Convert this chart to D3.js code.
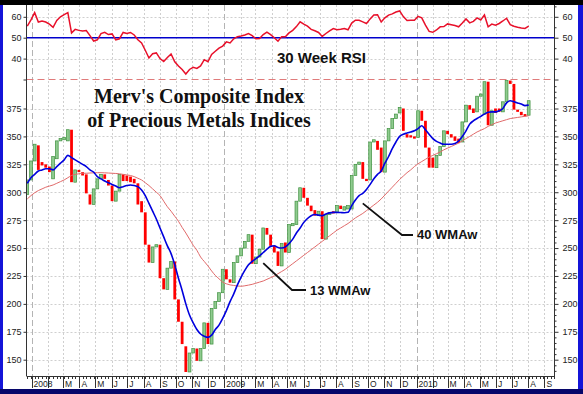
<!DOCTYPE html>
<html><head><meta charset="utf-8">
<script src="https://cdn.jsdelivr.net/npm/d3@7"></script>
<style>body{margin:0;background:#fff}svg{display:block}</style>
</head><body><svg id="c" width="583" height="394"></svg>
<script>
// ---------- DATA (weekly, Mondays from 2007-12-24) ----------
const firstWeek = new Date(2007, 11, 24);
const lastWeek = new Date(2010, 7, 2);
const opens = [
 298,311,328,342,327,325,323,312,330,346,
 347,346,356,309,320,318,316,298,289,303,
 312,316,311,306,292,301,316,315,314,312,
 308,292,282,253,237,251,253,223,213,232,
 238,204,184,162,139,156,160,149,160,183,
 164,196,202,210,231,222,219,237,243,250,
 256,262,236,242,249,268,262,252,247,234,
 255,246,270,271,292,304,295,288,284,279,
 283,258,280,283,282,288,284,285,285,315,
 325,327,312,311,345,346,340,318,346,357,
 366,371,375,352,351,350,349,373,364,340,
 331,322,333,341,355,352,350,348,345,363,
 378,375,372,386,370,399,360,375,375,372,
 381,400,397,374,372,370,369];
const closes = [
 311,328,343,320,324,322,318,332,346,348,
 349,356,309,320,318,315,299,289,303,312,
 316,312,306,292,301,316,310,310,309,308,
 289,282,253,237,251,253,223,213,232,238,
 204,184,164,139,156,160,149,160,183,164,
 196,202,210,231,222,219,237,243,250,256,
 262,236,242,249,268,262,252,246,234,254,
 246,271,272,292,304,295,288,283,279,283,
 258,280,282,281,288,285,287,288,315,325,
 327,312,310,345,347,338,318,346,357,366,
 370,376,355,349,349,348,373,364,340,322,
 322,333,341,355,352,349,346,344,363,378,
 374,371,386,388,399,360,373,371,372,381,
 400,397,374,372,369,368,382];
const rsi = [
 55.5,58.5,62,57.5,58,57.5,56.5,55,58.3,60,
 61,62,52.3,54,53.5,53.2,53.4,51,48.4,49,
 52,52.6,51.5,51.8,49,49.5,52.5,52,52.5,51.3,
 49,47.5,44,40.3,42.3,42.7,40,38.6,40.5,42.2,
 38.5,36.5,34.8,32.6,34.8,35.8,35.3,36.5,39.5,38.5,
 42,43.5,45,46,48,47.5,49.5,50.5,50.8,51.3,
 52,51,49.5,49.6,51.5,52.7,51.5,50,48.3,50.5,
 50.5,52.3,53.5,55.3,57.6,56.5,55.5,54,53.3,52.5,
 50.6,52,53.3,54.4,53.8,54,54.4,53.8,57,58.4,
 58.3,57.6,56.8,59,60.9,61,57.5,59.5,60.8,61.4,
 62.3,62.8,60.1,58.2,58.4,58.3,60.2,59.5,56,53,
 52.6,53.7,55.2,55.3,56.6,56.2,55.8,55.2,57,59,
 57.1,57.8,59.5,58.5,60.9,55.2,56.5,56,56.8,58,
 59.3,56.2,55.5,55,54.6,54.4,55.5];
const wma13 = [
 308,313,316,319,320,321,321,320,323,326,
 329,333,331,329,327,325,323,320,318,314,
 312,310,308.5,307,305.5,304,305,306,306.5,306,
 305,302,297,290,283,276,268,260,252,245,
 235,223,212,200,190,183,177,173,171,170,
 172,177,181,187,194,202,209,217,224,230,
 235,238,240.5,243,246,249,251.5,252,250.5,250,
 251,254,258,263.5,268,273,276.5,279,280,279.5,
 279,280.5,281.5,282,282,281.8,281.6,282,288,293,
 297,299,302.5,307,312,316,319,326,332,339,
 345,350,352,353,354,355,357,359.5,356,352,
 348,345.5,344,343,343,343,343.6,346,350,355,
 361,364,366,368,370,371.6,372,372,373,375,
 380,382,381,380,379,377.6,378];
const wma40 = [
 294,297,299.5,301.5,303,304.5,305.5,306.5,308,309.5,
 311,313,315,316,316.5,317,317,317.2,317.4,317.5,
 317.5,317.4,317.2,317,316.8,316.5,316,315.5,315,314,
 312.5,311,308.5,306,303,300,297,292,287,283,
 278.5,274,268.5,263.5,258,252.5,248,242,238,234,
 229.5,225.5,222.5,219.5,218,217,216.5,216,215.8,216.2,
 216.8,217.5,218.5,219.5,220.5,222,223.5,225,227,229,
 231,233.5,236,238.5,241,243.5,246,248.5,251,253.5,
 256,258.5,261,263.5,266,268,270,272,274.5,277,
 279,281,283.5,286,288.5,291,294,297.5,301,304.5,
 308,311.5,314.5,317.5,320,323,325.5,327.5,329.5,331.5,
 333,334.5,336,338,339.5,341,342.5,344,346,348,
 350,352,354,355.5,357,359,360.5,362,363,364,
 365,366,366.5,367,367.5,368,368.5];
const priceTicks = [150,175,200,225,250,275,300,325,350,375];
const rsiTicks = [40,50,60];
const monthLetters = ["","","M","A","M","J","J","A","S","O","N","D"];
const titleLines = ["Merv's Composite Index","of Precious Metals Indices"];

// ---------- LAYOUT ----------
const W = 583, H = 394;
const L = 26.5, R = 554.5, T = 5, B = 376, SPLIT = 79.5;
const svg = d3.select("#c");
const weeks = d3.timeMonday.range(firstWeek, d3.timeDay.offset(lastWeek, 1));

const x = d3.scaleTime().domain([new Date(2008,0,1), new Date(2010,0,1)]).range([31.5, 416.5]);
const y = d3.scaleLinear().domain([150, 375]).range([359.7, 108.5]);
const yr = d3.scaleLinear().domain([30, 60]).range([SPLIT, 16.8]);

// frame
svg.append("rect").attr("width", W).attr("height", H).attr("fill", "#1414d8");
svg.append("rect").attr("width", W).attr("height", 5).attr("fill", "#000");
svg.append("rect").attr("x", 0).attr("y", 389).attr("width", W).attr("height", 5).attr("fill", "#06066a");
svg.append("rect").attr("x", 3).attr("y", 5).attr("width", 575).attr("height", 384).attr("fill", "#fff");

const g = svg.append("g");
svg.append("defs").append("clipPath").attr("id","clip").append("rect")
  .attr("x", L).attr("y", T).attr("width", R-L).attr("height", B-T);

// grid
const months = d3.timeMonth.range(x.invert(L), x.invert(R));
g.selectAll(".vg").data(months.filter(d => d.getMonth() !== 0)).join("line")
  .attr("x1", d => Math.round(x(d))+0.5).attr("x2", d => Math.round(x(d))+0.5)
  .attr("y1", T).attr("y2", B).attr("stroke", "#cfcfcf").attr("stroke-dasharray", "2,2");
g.selectAll(".hg").data(priceTicks).join("line")
  .attr("x1", L).attr("x2", R).attr("y1", d => Math.round(y(d))+0.5).attr("y2", d => Math.round(y(d))+0.5)
  .attr("stroke", "#cfcfcf").attr("stroke-dasharray", "2,2");
g.selectAll(".rg").data([40,60]).join("line")
  .attr("x1", L).attr("x2", R).attr("y1", d => Math.round(yr(d))+0.5).attr("y2", d => Math.round(yr(d))+0.5)
  .attr("stroke", "#cfcfcf").attr("stroke-dasharray", "2,2");
g.selectAll(".yg").data(months.filter(d => d.getMonth() === 0)).join("line")
  .attr("x1", d => Math.round(x(d))+0.5).attr("x2", d => Math.round(x(d))+0.5)
  .attr("y1", T).attr("y2", B).attr("stroke", "#b4b4b4").attr("stroke-dasharray", "6,3");

// RSI panel
g.append("line").attr("x1", L).attr("x2", R).attr("y1", yr(50)).attr("y2", yr(50))
  .attr("stroke", "#0000cc").attr("stroke-width", 1.5);
g.append("path").datum(rsi).attr("fill", "none").attr("stroke", "#e8102a").attr("stroke-width", 1.5)
  .attr("d", d3.line().x((d,i) => x(weeks[i])).y(d => yr(d)));
g.append("line").attr("x1", L).attr("x2", R).attr("y1", SPLIT).attr("y2", SPLIT)
  .attr("stroke", "#e07b7b").attr("stroke-width", 1.2).attr("stroke-dasharray", "7,4");

// bars
const bars = g.append("g").attr("clip-path", "url(#clip)");
bars.selectAll("rect").data(weeks).join("rect")
  .attr("x", (d,i) => x(d) - 1.4)
  .attr("width", 2.8)
  .attr("y", (d,i) => Math.min(y(opens[i]), y(closes[i])))
  .attr("height", (d,i) => Math.max(1.6, Math.abs(y(opens[i]) - y(closes[i]))))
  .attr("fill", (d,i) => closes[i] >= opens[i] ? "#8fcb8f" : "#ff0000")
  .attr("stroke", (d,i) => closes[i] >= opens[i] ? "#3f913f" : "none")
  .attr("stroke-width", 0.7);

// moving averages
bars.append("path").datum(wma40).attr("fill", "none").attr("stroke", "#e06a6a").attr("stroke-width", 1)
  .attr("d", d3.line().curve(d3.curveMonotoneX).x((d,i) => x(weeks[i])).y(d => y(d)));
bars.append("path").datum(wma13).attr("fill", "none").attr("stroke", "#0000dd").attr("stroke-width", 1.6)
  .attr("d", d3.line().curve(d3.curveMonotoneX).x((d,i) => x(weeks[i])).y(d => y(d)));

// axes lines
const ax = svg.append("g").attr("stroke", "#333").attr("stroke-width", 1);
ax.append("line").attr("x1", L).attr("x2", L).attr("y1", T).attr("y2", B);
ax.append("line").attr("x1", R).attr("x2", R).attr("y1", T).attr("y2", B);
ax.append("line").attr("x1", L).attr("x2", R).attr("y1", B+0.5).attr("y2", B+0.5);

// y axes with d3 axis
const fontAx = "Liberation Sans, Arial, sans-serif";
function styleAxis(sel) {
  sel.select(".domain").remove();
  sel.selectAll("text").attr("font-family", fontAx).attr("font-size", 9).attr("fill", "#222");
  sel.selectAll("line").attr("stroke", "#333");
}
svg.append("g").attr("transform", `translate(${L},0)`)
  .call(d3.axisLeft(y).tickValues(priceTicks).tickSize(3).tickPadding(2)).call(styleAxis);
svg.append("g").attr("transform", `translate(${R},0)`)
  .call(d3.axisRight(y).tickValues(priceTicks).tickSize(4).tickPadding(4)).call(styleAxis);
svg.append("g").attr("transform", `translate(${R},0)`)
  .call(d3.axisRight(y).tickValues(d3.range(140, 400, 5).filter(v => v % 25 !== 0)).tickSize(2).tickFormat("")).call(styleAxis);
svg.append("g").attr("transform", `translate(${L},0)`)
  .call(d3.axisLeft(yr).tickValues([30,40,50,60]).tickSize(3).tickPadding(2).tickFormat(d => d === 30 ? "" : d)).call(styleAxis);
svg.append("g").attr("transform", `translate(${R},0)`)
  .call(d3.axisRight(yr).tickValues([30,40,50,60]).tickSize(4).tickPadding(4).tickFormat(d => d === 30 ? "" : d)).call(styleAxis);
svg.append("g").attr("transform", `translate(${R},0)`)
  .call(d3.axisRight(yr).tickValues([35,45,55,65]).tickSize(2).tickFormat("")).call(styleAxis);

// bottom axis: weekly ticks + month ticks + labels
const bx = svg.append("g");
bx.selectAll(".wt").data(d3.timeMonday.range(x.invert(L), x.invert(R))).join("line")
  .attr("x1", d => Math.round(x(d))+0.5).attr("x2", d => Math.round(x(d))+0.5)
  .attr("y1", B).attr("y2", B+3).attr("stroke", "#333");
bx.selectAll(".mt").data(months).join("line")
  .attr("x1", d => Math.round(x(d))+0.5).attr("x2", d => Math.round(x(d))+0.5)
  .attr("y1", B).attr("y2", B+12).attr("stroke", "#333");
bx.selectAll(".ml").data(months.filter(d => d.getMonth() !== 1)).join("text")
  .attr("x", d => x(d) + 2).attr("y", 387)
  .attr("font-family", fontAx).attr("font-size", 8.5).attr("fill", "#222")
  .text(d => d.getMonth() === 0 ? d.getFullYear() : monthLetters[d.getMonth()]);

// titles
svg.append("g").selectAll("text").data(titleLines).join("text")
  .attr("x", 199).attr("y", (d,i) => 103 + i*24).attr("text-anchor", "middle")
  .attr("font-family", "Liberation Serif, Times New Roman, serif").attr("font-weight", "bold")
  .attr("font-size", 20).attr("fill", "#111").text(d => d);
svg.append("text").attr("x", 321.5).attr("y", 63).attr("text-anchor", "middle")
  .attr("font-family", fontAx).attr("font-weight", "bold").attr("font-size", 15).attr("fill", "#111")
  .text("30 Week RSI");

// annotations
svg.append("path").attr("d", `M${x(new Date(2009,2,16))},${y(236.5)} L292,290 L306,290`)
  .attr("fill", "none").attr("stroke", "#111").attr("stroke-width", 1.8);
svg.append("text").attr("x", 310).attr("y", 295).attr("font-family", fontAx).attr("font-weight", "bold")
  .attr("font-size", 13).attr("fill", "#111").text("13 WMAw");
svg.append("path").attr("d", `M${x(new Date(2009,8,21))},${y(290)} L402,235 L413,235`)
  .attr("fill", "none").attr("stroke", "#111").attr("stroke-width", 1.8);
svg.append("text").attr("x", 417).attr("y", 239).attr("font-family", fontAx).attr("font-weight", "bold")
  .attr("font-size", 13).attr("fill", "#111").text("40 WMAw");
</script></body></html>
